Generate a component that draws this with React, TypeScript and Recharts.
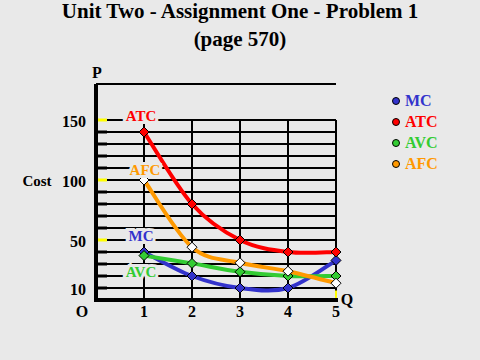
import {
  CartesianGrid,
  ComposedChart,
  Customized,
  Legend,
  Line,
  XAxis,
  YAxis
} from "recharts";

const quantities = [1, 2, 3, 4, 5];
const mcValues = [40, 20, 10, 10, 33];
const atcValues = [140, 80, 50, 40, 40];
const avcValues = [37, 30.5, 23.5, 20, 20];
const afcValues = [100, 44, 31, 24, 14];

const costTicks = [10, 20, 30, 40, 50, 60, 70, 80, 90, 100, 110, 120, 130, 140, 150];
const labelledCosts = [10, 50, 100, 150];
const yellowCosts = [50, 100, 150];
const gridTop = 150;
const legendOrder = ["MC", "ATC", "AVC", "AFC"];

const data = quantities.map((q, i) => ({
  q,
  mc: mcValues[i],
  atc: atcValues[i],
  avc: avcValues[i],
  afc: afcValues[i]
}));

// vertical grid lines stop at the top gridline (150), not at the axis top
const verticalGrid = quantities.map((q) => [
  { q, g: 0 },
  { q, g: gridTop }
]);
const yellowMark = [
  { q: 5, g: 0 },
  { q: 5, g: 8 }
];

const BG = "#e9e9e9";
const SERIF = '"Liberation Serif", "Times New Roman", serif';

const series = [
  { key: "mc", name: "MC", color: "#3333cc", dot: "#3333cc", labelDx: -3, labelDy: -11 },
  { key: "atc", name: "ATC", color: "#ff0000", dot: "#ff0000", labelDx: -3, labelDy: -11 },
  { key: "avc", name: "AVC", color: "#33cc33", dot: "#33cc33", labelDx: -3, labelDy: 21 },
  { key: "afc", name: "AFC", color: "#ff9900", dot: "#ffffff", labelDx: 1, labelDy: -5 }
];

// Catmull-Rom style spline, like the old drawing program used
function cardinalCurve(context: any) {
  let pts: [number, number][] = [];
  return {
    areaStart() {},
    areaEnd() {},
    lineStart() {
      pts = [];
    },
    point(x: number, y: number) {
      pts.push([+x, +y]);
    },
    lineEnd() {
      if (!pts.length) return;
      context.moveTo(pts[0][0], pts[0][1]);
      for (let i = 0; i < pts.length - 1; i++) {
        const p0 = pts[Math.max(i - 1, 0)];
        const p1 = pts[i];
        const p2 = pts[i + 1];
        const p3 = pts[Math.min(i + 2, pts.length - 1)];
        context.bezierCurveTo(
          p1[0] + (p2[0] - p0[0]) / 6,
          p1[1] + (p2[1] - p0[1]) / 6,
          p2[0] - (p3[0] - p1[0]) / 6,
          p2[1] - (p3[1] - p1[1]) / 6,
          p2[0],
          p2[1]
        );
      }
    }
  };
}

function makeDot(fill: string, label: string, color: string, labelDx: number, labelDy: number) {
  return (props: any) => {
    const { cx, cy, index } = props;
    const r = 5;
    return (
      <g key={`${label}-${index}`}>
        <polygon
          points={`${cx},${cy - r} ${cx + r},${cy} ${cx},${cy + r} ${cx - r},${cy}`}
          fill={fill}
          stroke="#000"
          strokeWidth={1}
        />
        {index === 0 && (
          <text
            x={cx + labelDx}
            y={cy + labelDy}
            textAnchor="middle"
            fill={color}
            stroke={BG}
            strokeWidth={6}
            paintOrder="stroke"
            style={{ fontFamily: SERIF, fontWeight: "bold", fontSize: 15 }}
          >
            {label}
          </text>
        )}
      </g>
    );
  };
}

function CostTick(props: any) {
  const { x, y, payload } = props;
  const v = payload.value;
  return (
    <g>
      <line
        x1={x + 2}
        x2={x + 11}
        y1={y}
        y2={y}
        stroke={yellowCosts.includes(v) ? "#ffff00" : "#000"}
        strokeWidth={3}
      />
      {labelledCosts.includes(v) && (
        <text
          x={x - 10}
          y={y + 7}
          textAnchor="end"
          fill="#000"
          style={{ fontFamily: SERIF, fontWeight: "bold", fontSize: 16 }}
        >
          {v}
        </text>
      )}
    </g>
  );
}

function QuantityTick(props: any) {
  const { x, y, payload } = props;
  return (
    <text
      x={x}
      y={y + 17}
      textAnchor="middle"
      fill="#000"
      style={{ fontFamily: SERIF, fontWeight: "bold", fontSize: 16 }}
    >
      {payload.value}
    </text>
  );
}

function CostLegend(props: any) {
  const items = (props.payload || [])
    .filter((item: any) => legendOrder.includes(item.value))
    .sort((a: any, b: any) => legendOrder.indexOf(a.value) - legendOrder.indexOf(b.value));
  return (
    <div>
      {items.map((item: any) => (
        <div key={item.value} style={{ display: "flex", alignItems: "center", height: 21 }}>
          <svg width={10} height={10}>
            <circle cx={5} cy={5} r={3.5} fill={item.color} stroke="#000" strokeWidth={1} />
          </svg>
          <span
            style={{
              marginLeft: 4,
              color: item.color,
              fontFamily: SERIF,
              fontWeight: "bold",
              fontSize: 16,
              lineHeight: "21px"
            }}
          >
            {item.value}
          </span>
        </div>
      ))}
    </div>
  );
}

function Decorations() {
  const bold = { fontFamily: SERIF, fontWeight: "bold" as const };
  return (
    <g>
      <text x={240} y={18} textAnchor="middle" fill="#000" style={{ ...bold, fontSize: 21 }}>
        Unit Two - Assignment One - Problem 1
      </text>
      <text x={240} y={46} textAnchor="middle" fill="#000" style={{ ...bold, fontSize: 21 }}>
        (page 570)
      </text>
      <text x={97} y={78} textAnchor="middle" fill="#000" style={{ ...bold, fontSize: 16 }}>
        P
      </text>
      <text x={347} y={305} textAnchor="middle" fill="#000" style={{ ...bold, fontSize: 16 }}>
        Q
      </text>
      <text x={82} y={317} textAnchor="middle" fill="#000" style={{ ...bold, fontSize: 16 }}>
        O
      </text>
      <text x={37} y={186} textAnchor="middle" fill="#000" style={{ ...bold, fontSize: 15 }}>
        Cost
      </text>
    </g>
  );
}

export default function App() {
  return (
    <div style={{ position: "absolute", left: 0, top: 0, width: 480, height: 360, background: BG }}>
      <ComposedChart
        width={480}
        height={360}
        data={data}
        margin={{ top: 84, right: 144, bottom: 30, left: 0 }}
      >
        <CartesianGrid horizontal vertical={false} stroke="#000" strokeWidth={2} />
        {verticalGrid.map((seg, i) => (
          <Line
            key={`grid-${i}`}
            data={seg}
            dataKey="g"
            type="linear"
            stroke="#000"
            strokeWidth={2}
            dot={false}
            activeDot={false}
            legendType="none"
            isAnimationActive={false}
          />
        ))}
        <Line
          data={yellowMark}
          dataKey="g"
          type="linear"
          stroke="#ffff00"
          strokeWidth={2}
          dot={false}
          activeDot={false}
          legendType="none"
          isAnimationActive={false}
        />
        <XAxis
          dataKey="q"
          type="number"
          domain={[0, 5]}
          ticks={quantities}
          height={30}
          tickSize={0}
          tickMargin={0}
          tickLine={false}
          axisLine={{ stroke: "#000", strokeWidth: 4, strokeLinecap: "square" }}
          tick={<QuantityTick />}
        />
        <YAxis
          type="number"
          domain={[0, 180]}
          ticks={costTicks}
          interval={0}
          width={96}
          tickSize={0}
          tickMargin={0}
          tickLine={false}
          axisLine={{ stroke: "#000", strokeWidth: 4 }}
          tick={<CostTick />}
        />
        {series.map((s) => (
          <Line
            key={s.key}
            type={cardinalCurve as any}
            dataKey={s.key}
            name={s.name}
            stroke={s.color}
            strokeWidth={4}
            strokeLinejoin="round"
            dot={makeDot(s.dot, s.name, s.color, s.labelDx, s.labelDy)}
            activeDot={false}
            isAnimationActive={false}
          />
        ))}
        <Legend
          layout="vertical"
          align="center"
          verticalAlign="middle"
          wrapperStyle={{ left: 391, top: 90, width: 80 }}
          content={<CostLegend />}
        />
        <Customized component={<Decorations />} />
      </ComposedChart>
    </div>
  );
}
